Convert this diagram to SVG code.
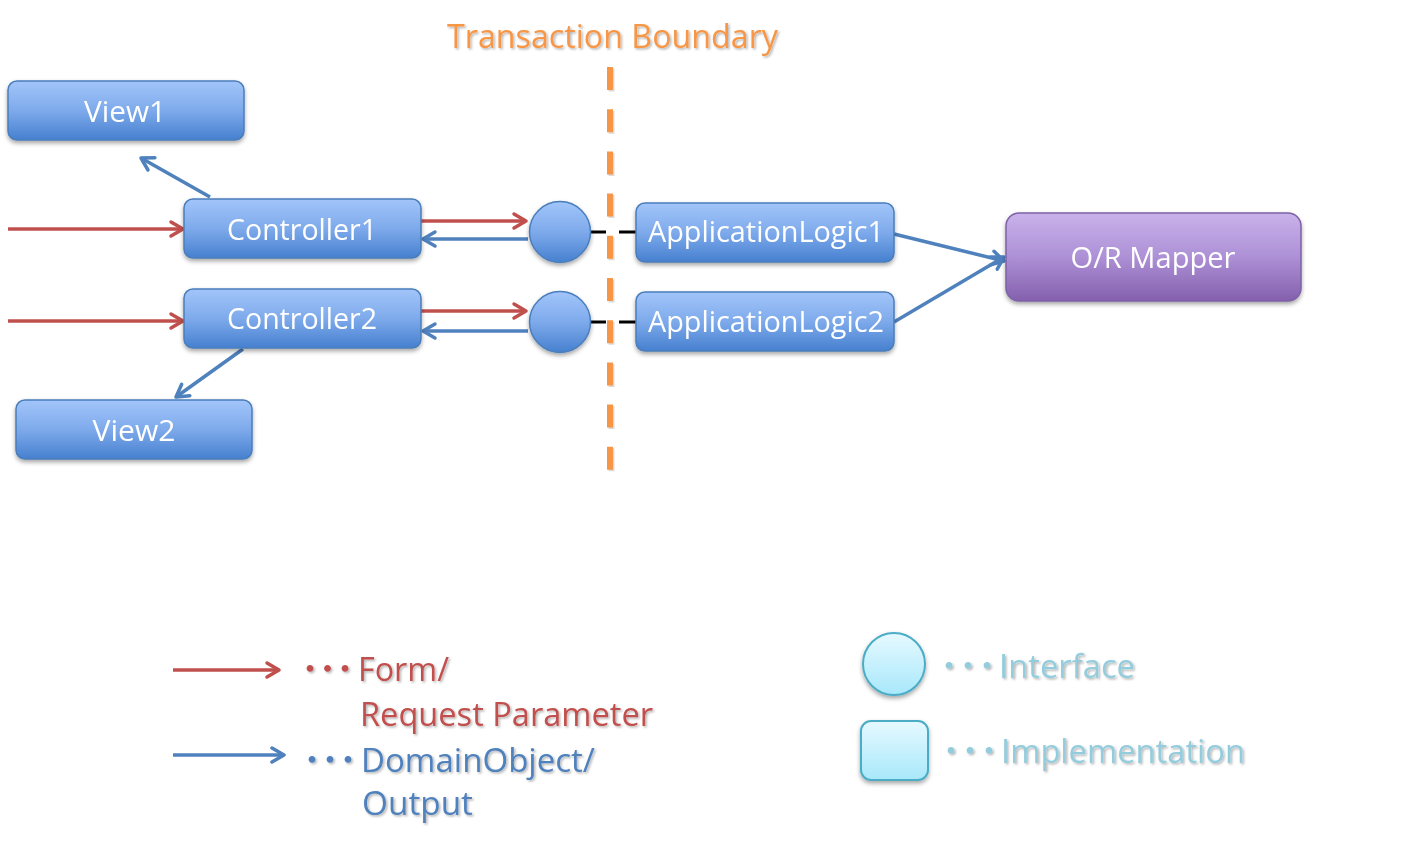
<svg xmlns="http://www.w3.org/2000/svg" width="1415" height="853" viewBox="0 0 1415 853">
<defs>
<linearGradient id="gBlue" x1="0" y1="0" x2="0" y2="1">
<stop offset="0" stop-color="#a2c5fa"/><stop offset="0.5" stop-color="#7eaaeb"/><stop offset="1" stop-color="#4680cf"/>
</linearGradient>
<linearGradient id="gPurple" x1="0" y1="0" x2="0" y2="1">
<stop offset="0" stop-color="#c9b2ea"/><stop offset="0.5" stop-color="#ad90d6"/><stop offset="1" stop-color="#8460ad"/>
</linearGradient>
<linearGradient id="gCyan" x1="0" y1="0" x2="0" y2="1">
<stop offset="0" stop-color="#e6f9ff"/><stop offset="1" stop-color="#a8e8fb"/>
</linearGradient>
<filter id="sh" x="-10%" y="-10%" width="120%" height="140%">
<feDropShadow dx="0" dy="2.5" stdDeviation="2" flood-color="#000" flood-opacity="0.35"/>
</filter>
<filter id="tsh" x="-5%" y="-20%" width="110%" height="150%">
<feDropShadow dx="1.5" dy="1.5" stdDeviation="1" flood-color="#000" flood-opacity="0.3"/>
</filter>
<marker id="aRed" markerUnits="userSpaceOnUse" markerWidth="20" markerHeight="20" viewBox="0 0 20 20" refX="15" refY="10" orient="auto">
<path d="M3,3 L15,10 L3,17" fill="none" stroke="#c0504d" stroke-width="3.5" stroke-linecap="round" stroke-linejoin="round"/>
</marker>
<marker id="aBlue" markerUnits="userSpaceOnUse" markerWidth="20" markerHeight="20" viewBox="0 0 20 20" refX="15" refY="10" orient="auto">
<path d="M3,3 L15,10 L3,17" fill="none" stroke="#4f81bd" stroke-width="3.5" stroke-linecap="round" stroke-linejoin="round"/>
</marker>
</defs>
<style>
.box{fill:url(#gBlue);stroke:#4a7ebb;stroke-width:1.5}
.nt{font-family:"Open Sans","Liberation Sans",sans-serif;font-size:30px;fill:#ffffff;text-anchor:middle}
.red{stroke:#c0504d;stroke-width:3.5;fill:none;marker-end:url(#aRed)}
.blue{stroke:#4f81bd;stroke-width:3.5;fill:none;marker-end:url(#aBlue)}
.blk{stroke:#000;stroke-width:3;fill:none}
.lg{font-family:"Open Sans","Liberation Sans",sans-serif;font-size:33px}
.dot{font-family:"Noto Sans CJK JP","Noto Sans",sans-serif;font-weight:900;font-size:24px}
</style>
<rect width="1415" height="853" fill="#ffffff"/>

<g id="title">
<text x="447" y="48" textLength="331" lengthAdjust="spacingAndGlyphs" filter="url(#tsh)" style="font-family:'Open Sans','Liberation Sans',sans-serif;font-size:33px;fill:#f79646">Transaction Boundary</text>
</g>

<g id="connectors">
<line class="red" x1="8" y1="229" x2="183" y2="229"/>
<line class="red" x1="8" y1="321" x2="183" y2="321"/>
<line class="blue" x1="210" y1="197" x2="141" y2="158"/>
<line class="blue" x1="243" y1="349" x2="176" y2="397"/>
<line class="red" x1="421" y1="221" x2="526" y2="221"/>
<line class="blue" x1="528" y1="239" x2="423" y2="239"/>
<line class="red" x1="421" y1="311" x2="526" y2="311"/>
<line class="blue" x1="528" y1="331" x2="423" y2="331"/>
<line class="blk" x1="590" y1="232" x2="606" y2="232"/>
<line class="blk" x1="619" y1="232" x2="636" y2="232"/>
<line class="blk" x1="590" y1="322" x2="606" y2="322"/>
<line class="blk" x1="619" y1="322" x2="636" y2="322"/>
<line class="blue" x1="894" y1="234" x2="1004" y2="261"/>
<line class="blue" x1="894" y1="322" x2="1004" y2="257"/>
</g>

<g id="boundary">
<line x1="611.5" y1="68.5" x2="611.5" y2="471.5" stroke="#999999" stroke-opacity="0.35" stroke-width="6" stroke-dasharray="23 19.2"/>
<line x1="610" y1="67" x2="610" y2="470" stroke="#f79646" stroke-width="6" stroke-dasharray="23 19.2"/>
</g>

<g id="view1" filter="url(#sh)">
<rect class="box" x="8" y="81" width="236" height="59" rx="9"/>
<text class="nt" x="125" y="122" textLength="82" lengthAdjust="spacingAndGlyphs">View1</text>
</g>
<g id="controller1" filter="url(#sh)">
<rect class="box" x="184" y="199" width="237" height="59" rx="9"/>
<text class="nt" x="302" y="240" textLength="150" lengthAdjust="spacingAndGlyphs">Controller1</text>
</g>
<g id="controller2" filter="url(#sh)">
<rect class="box" x="184" y="289" width="237" height="59" rx="9"/>
<text class="nt" x="302" y="329" textLength="150" lengthAdjust="spacingAndGlyphs">Controller2</text>
</g>
<g id="view2" filter="url(#sh)">
<rect class="box" x="16" y="400" width="236" height="59" rx="9"/>
<text class="nt" x="134" y="441" textLength="83" lengthAdjust="spacingAndGlyphs">View2</text>
</g>
<g id="interface1" filter="url(#sh)">
<circle class="box" cx="560" cy="232" r="30.5"/>
</g>
<g id="interface2" filter="url(#sh)">
<circle class="box" cx="560" cy="322" r="30.5"/>
</g>
<g id="applicationLogic1" filter="url(#sh)">
<rect class="box" x="636" y="203" width="258" height="59" rx="9"/>
<text class="nt" x="766" y="242" textLength="236" lengthAdjust="spacingAndGlyphs">ApplicationLogic1</text>
</g>
<g id="applicationLogic2" filter="url(#sh)">
<rect class="box" x="636" y="292" width="258" height="59" rx="9"/>
<text class="nt" x="766" y="332" textLength="236" lengthAdjust="spacingAndGlyphs">ApplicationLogic2</text>
</g>
<g id="orMapper" filter="url(#sh)">
<rect x="1006" y="213" width="295" height="88" rx="13" fill="url(#gPurple)" stroke="#7e62a6" stroke-width="1.5"/>
<text class="nt" x="1153" y="268" textLength="165" lengthAdjust="spacingAndGlyphs">O/R Mapper</text>
</g>

<g id="legend">
<line class="red" x1="173" y1="670" x2="279" y2="670"/>
<line class="blue" x1="173" y1="755" x2="284" y2="755"/>
<text class="lg" y="681" fill="#c0504d" filter="url(#tsh)"><tspan class="dot" x="298 315.5 333" dy="-4">・・・</tspan><tspan x="358" dy="4" textLength="91" lengthAdjust="spacingAndGlyphs">Form/</tspan></text>
<text class="lg" x="360" y="726" fill="#c0504d" filter="url(#tsh)" textLength="293" lengthAdjust="spacingAndGlyphs">Request Parameter</text>
<text class="lg" y="772" fill="#4f81bd" filter="url(#tsh)"><tspan class="dot" x="300 318 336" dy="-4">・・・</tspan><tspan x="361" dy="4" textLength="234" lengthAdjust="spacingAndGlyphs">DomainObject/</tspan></text>
<text class="lg" x="362" y="815" fill="#4f81bd" filter="url(#tsh)" textLength="111" lengthAdjust="spacingAndGlyphs">Output</text>
<g id="legendInterface" filter="url(#sh)">
<circle cx="894" cy="664" r="31" fill="url(#gCyan)" stroke="#4bacc6" stroke-width="2"/>
</g>
<g id="legendImplementation" filter="url(#sh)">
<rect x="861" y="721" width="67" height="59" rx="10" fill="url(#gCyan)" stroke="#4bacc6" stroke-width="2"/>
</g>
<text class="lg" y="678" fill="#93cddd" filter="url(#tsh)"><tspan class="dot" x="937 956 975" dy="-4">・・・</tspan><tspan x="999" dy="4" textLength="136" lengthAdjust="spacingAndGlyphs">Interface</tspan></text>
<text class="lg" y="763" fill="#93cddd" filter="url(#tsh)"><tspan class="dot" x="939 958 977" dy="-4">・・・</tspan><tspan x="1001" dy="4" textLength="244" lengthAdjust="spacingAndGlyphs">Implementation</tspan></text>
</g>
</svg>
